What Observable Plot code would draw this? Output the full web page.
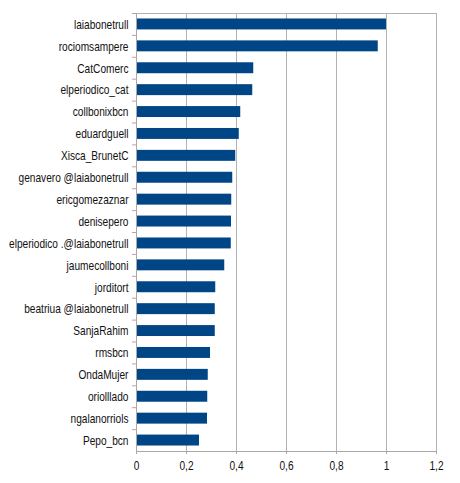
<!DOCTYPE html>
<html>
<head>
<meta charset="utf-8">
<script src="https://cdn.jsdelivr.net/npm/d3@7"></script>
<script src="https://cdn.jsdelivr.net/npm/@observablehq/plot@0.6"></script>
<style>
  html, body { margin: 0; padding: 0; background: #fff; }
  svg { display: block; }
</style>
</head>
<body>
<div id="chart"></div>
<script>
const names = [
  "laiabonetrull", "rociomsampere", "CatComerc", "elperiodico_cat", "collbonixbcn",
  "eduardguell", "Xisca_BrunetC", "genavero @laiabonetrull", "ericgomezaznar", "denisepero",
  "elperiodico .@laiabonetrull", "jaumecollboni", "jorditort", "beatriua @laiabonetrull", "SanjaRahim",
  "rmsbcn", "OndaMujer", "oriolllado", "ngalanorriols", "Pepo_bcn"
];
const values = [
  1.0, 0.967, 0.469, 0.465, 0.417,
  0.411, 0.397, 0.385, 0.381, 0.380,
  0.379, 0.353, 0.317, 0.315, 0.315,
  0.296, 0.287, 0.285, 0.284, 0.252
];
const xTicks = [0, 0.2, 0.4, 0.6, 0.8, 1, 1.2];

const data = names.map((name, i) => ({name, value: values[i]}));

const W = 460, H = 483, mT = 13, mB = 32, mL = 136, mR = 24;
const step = (H - mT - mB) / names.length;

const chart = Plot.plot({
  width: W, height: H,
  marginTop: mT, marginBottom: mB, marginLeft: mL, marginRight: mR,
  style: {fontFamily: "'Liberation Sans', Arial, sans-serif", fontSize: "13.5px", color: "#111", background: "#fff"},
  x: {domain: [0, 1.2], ticks: xTicks},
  y: {domain: names, paddingInner: 0.5, paddingOuter: 0.25, round: false},
  marks: [
    Plot.ruleX(xTicks.slice(1), {stroke: "#b3b3b3", strokeWidth: 1}),
    Plot.frame({stroke: "#b3b3b3"}),
    Plot.barX(data, {x: "value", y: "name", fill: "#004586"}),
    Plot.ruleY(names, {y: d => d, x1: -0.016, x2: 0, dy: -step / 2, stroke: "#c89aae", clip: false}),
    Plot.ruleX([0], {stroke: "#a8a8a8"}),
    Plot.frame({anchor: "bottom", stroke: "#a8a8a8"}),
    Plot.axisX({ticks: xTicks, tickSize: 3, tickPadding: 6, stroke: "#a8a8a8", fill: "#111",
      tickFormat: d => String(d).replace(".", ","), label: null}),
    Plot.axisY({tickSize: 0, tickPadding: 8, fill: "#111", label: null})
  ]
});

document.getElementById("chart").appendChild(chart);

// horizontally condensed lettering, as in the reference
chart.querySelectorAll("text").forEach(t => {
  const w = t.getComputedTextLength();
  if (w > 0) {
    t.setAttribute("textLength", (w * 0.75).toFixed(2));
    t.setAttribute("lengthAdjust", "spacingAndGlyphs");
  }
});
</script>
</body>
</html>
